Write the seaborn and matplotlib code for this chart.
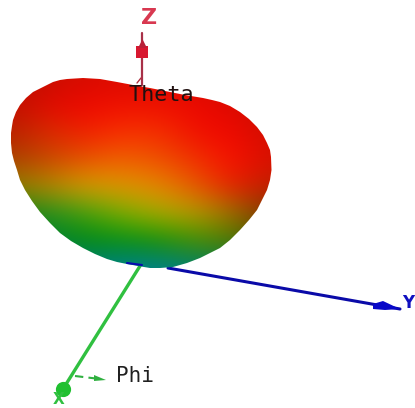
import numpy as np
import pandas as pd
import matplotlib
matplotlib.use('Agg')
import matplotlib.pyplot as plt
from matplotlib.colors import to_rgb
from matplotlib.patches import Polygon
import seaborn as sns

sns.set_style('white')

# outline of the lobe (pixels)
lobe_x = [53, 60, 67, 83, 100, 117, 133, 150, 165, 185, 203, 212, 220, 230, 240, 249, 257, 263, 267, 270, 271,
          271.5, 270, 267, 262, 257, 249, 240, 230, 220, 210, 200, 187, 173, 160, 150, 138, 127, 117, 107, 95,
          83, 71, 60, 50, 40, 32, 25, 20, 17, 14, 12, 11, 11, 12, 13, 16, 20, 26, 33, 43]
lobe_y = [82, 80, 79, 78, 79, 82, 85, 88, 91, 95, 98, 100, 102, 106, 112, 119, 127, 135, 143, 150, 157,
          170, 180, 190, 200, 210, 220, 230, 240, 248, 253, 258, 263, 267, 268, 268, 266, 264, 262, 259, 254,
          248, 241, 233, 223, 212, 201, 190, 180, 170, 161, 153, 143, 133, 126, 120, 112, 105, 98, 92, 87]

# colours on the lobe, rows top to bottom
grid_x = [10, 47, 84, 121, 158, 195, 232, 270]
grid_y = [78, 105, 132, 159, 186, 213, 240, 268]
lobe_colors = [
    ['#b81000', '#c81000', '#d80c00', '#dc0c00', '#dc0c00', '#d80c00', '#c81000', '#b81000'],
    ['#c01000', '#e00a00', '#ee0800', '#f01000', '#f01000', '#ee0800', '#e00800', '#c81000'],
    ['#b82000', '#d82c00', '#f02000', '#f83000', '#f43000', '#f01000', '#f00800', '#d01000'],
    ['#a84000', '#c84800', '#e85000', '#f06000', '#ee5000', '#f03000', '#f81000', '#d81000'],
    ['#908000', '#b08800', '#d8a000', '#e09800', '#e88800', '#e85800', '#e82000', '#c02000'],
    ['#108010', '#209020', '#40a010', '#78b000', '#a8b000', '#b8a000', '#987000', '#803000'],
    ['#008040', '#008030', '#008810', '#009010', '#109000', '#409000', '#507800', '#405000'],
    ['#008080', '#008080', '#007f80', '#008090', '#008090', '#008070', '#008050', '#008050'],
]

# axes of the pattern
z_x, z_y = [142, 142], [85, 33]
y_x, y_y = [168, 400], [268, 309]
y_edge_x, y_edge_y = [127, 142], [263, 265]
x_x, x_y = [140, 63], [266, 389]
y_head_x, y_head_y = [373, 383, 400, 385, 373], [304, 301, 309, 310, 309]

# small arrows for the angles
phi_x, phi_y = [75, 100], [376, 379]
phi_head_x, phi_head_y = [94, 106, 94], [375, 380, 381]
theta_x, theta_y = [137, 141], [83, 78]

fig = plt.figure(figsize=(4.15, 4.08), dpi=100)
ax = fig.add_axes([0, 0, 1, 1])

rgb = np.array([[to_rgb(c) for c in row] for row in lobe_colors])
im = ax.imshow(rgb, extent=(grid_x[0] - 18.5, grid_x[-1] + 18.5, grid_y[-1] + 13.5, grid_y[0] - 13.5),
               interpolation='bicubic', aspect='auto', zorder=2)
im.set_clip_path(Polygon(np.column_stack([lobe_x, lobe_y]), transform=ax.transData))

def axisLine(xs, ys, color, width, zorder=3, **kw):
    df = pd.DataFrame({'x': xs, 'y': ys})
    sns.lineplot(data=df, x='x', y='y', sort=False, estimator=None, color=color,
                 linewidth=width, ax=ax, zorder=zorder, **kw)

axisLine(z_x, z_y, '#a83048', 1.6)
axisLine(y_x, y_y, '#0a0aa8', 2.2, zorder=1)
axisLine(y_edge_x, y_edge_y, '#0808b0', 1.5)
axisLine(x_x, x_y, '#30c040', 2.4, zorder=1)
axisLine(theta_x, theta_y, '#b03040', 1.0)
axisLine(phi_x, phi_y, '#30b040', 1.5, linestyle=(0, (4, 2.5)))

ax.fill(y_head_x, y_head_y, color='#0808c8', zorder=3, linewidth=0)
ax.fill(phi_head_x, phi_head_y, color='#30b040', zorder=3, linewidth=0)

# bulbs at the ends of Z and X
sns.scatterplot(x=[142], y=[52], s=75, marker='s', color='#d81830', linewidth=0, ax=ax, zorder=4)
sns.scatterplot(x=[142], y=[43], s=40, marker='^', color='#b82038', linewidth=0, ax=ax, zorder=4)
sns.scatterplot(x=[63], y=[389], s=120, marker='o', color='#20c030', linewidth=0, ax=ax, zorder=4)

ax.text(149, 18, 'Z', color='#d83850', fontsize=16, fontweight='bold', family='DejaVu Sans',
        ha='center', va='center', zorder=5)
ax.text(59, 407, 'X', color='#30c040', fontsize=11, fontweight='bold', family='DejaVu Sans',
        ha='center', va='bottom', zorder=5)
ax.text(414, 312, 'Y', color='#1010c0', fontsize=12, fontweight='bold', family='DejaVu Sans',
        ha='right', va='bottom', zorder=5)
ax.text(128, 95, 'Theta', color='#201010', fontsize=15.7, family='DejaVu Sans Mono',
        ha='left', va='center', zorder=5)
ax.text(116, 376, 'Phi', color='#202020', fontsize=15, family='DejaVu Sans Mono',
        ha='left', va='center', zorder=5)

ax.set_xlim(0, 415)
ax.set_ylim(408, 0)
ax.axis('off')

fig.savefig('out.png', dpi=100)
